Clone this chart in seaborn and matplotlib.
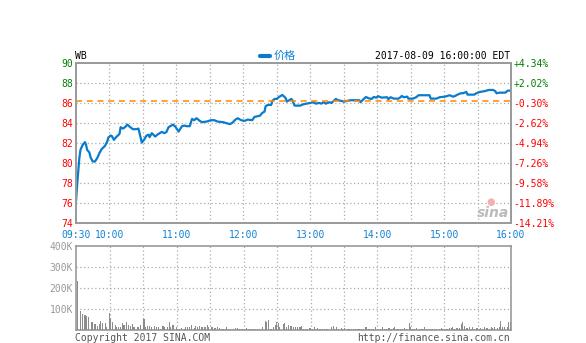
import numpy as np
import pandas as pd
import matplotlib
matplotlib.use("Agg")
import matplotlib.pyplot as plt
from matplotlib.lines import Line2D
import seaborn as sns

# ---------------- data ----------------
price_min = [0, 1, 2, 3, 4, 6, 8, 9, 10, 12, 13, 15, 17, 19, 21, 23, 26, 28, 29, 31,
             32, 34, 36, 38, 39, 40, 42, 44, 46, 48, 51, 54, 56, 57, 58, 59, 61, 63, 65, 66,
             68, 71, 73, 75, 77, 79, 81, 83, 85, 87, 89, 92, 95, 97, 99, 102, 104, 106, 108, 111,
             113, 117, 121, 124, 127, 132, 136, 138, 140, 143, 145, 148, 151, 154, 158, 160, 163, 165, 167, 169,
             170, 172, 175, 176, 178, 180, 182, 183, 185, 187, 188, 189, 191, 193, 194, 196, 198, 201, 204, 207,
             210, 213, 215, 218, 220, 222, 224, 227, 229, 231, 233, 235, 238, 240, 243, 246, 250, 254, 255, 258,
             260, 262, 265, 267, 269, 271, 274, 279, 280, 282, 285, 289, 291, 292, 294, 297, 298, 302, 305, 307,
             317, 318, 323, 326, 331, 335, 338, 340, 342, 345, 347, 350, 351, 357, 359, 362, 366, 368, 370, 374,
             376, 377, 380, 385, 387, 390]
price = [76.16, 77.80, 79.16, 80.50, 81.33, 81.83, 82.10, 81.83, 81.33, 81.06, 80.60, 80.16, 80.16, 80.50, 81.00, 81.40, 81.73, 82.16, 82.56, 82.76,
         82.73, 82.33, 82.60, 82.83, 82.93, 83.60, 83.46, 83.60, 83.86, 83.66, 83.40, 83.40, 83.46, 83.00, 82.50, 82.06, 82.33, 82.73, 82.86, 82.60,
         83.00, 82.66, 82.86, 83.00, 83.13, 83.00, 83.10, 83.60, 83.73, 83.86, 83.66, 83.16, 83.70, 83.76, 83.70, 83.70, 84.43, 84.30, 84.50, 84.23,
         84.10, 84.16, 84.30, 84.30, 84.16, 84.10, 83.96, 83.90, 84.03, 84.36, 84.50, 84.30, 84.23, 84.36, 84.30, 84.63, 84.70, 84.76, 85.03, 85.16,
         85.70, 85.83, 85.83, 86.23, 86.43, 86.43, 86.63, 86.70, 86.83, 86.63, 86.50, 86.16, 86.30, 86.43, 86.30, 85.76, 85.76, 85.76, 85.90, 85.96,
         86.03, 86.10, 85.96, 86.03, 85.96, 86.10, 85.96, 86.10, 86.03, 86.23, 86.43, 86.30, 86.23, 86.16, 86.23, 86.30, 86.30, 86.30, 86.10, 86.43,
         86.63, 86.50, 86.43, 86.63, 86.56, 86.70, 86.56, 86.60, 86.40, 86.60, 86.46, 86.46, 86.60, 86.73, 86.60, 86.66, 86.46, 86.46, 86.60, 86.80,
         86.80, 86.46, 86.46, 86.60, 86.66, 86.80, 86.66, 86.73, 86.86, 87.00, 87.00, 87.13, 86.86, 86.86, 87.00, 87.13, 87.20, 87.26, 87.33, 87.33,
         87.20, 87.00, 87.06, 87.06, 87.26, 87.26]

vol_min = [0, 3, 5, 7, 8, 10, 13, 14, 16, 18, 20, 21, 23, 25, 26, 29, 30, 32, 34, 35,
           37, 39, 41, 42, 44, 46, 48, 50, 51, 54, 55, 57, 60, 61, 63, 65, 67, 69, 71, 73,
           75, 77, 78, 81, 83, 84, 86, 89, 90, 92, 94, 96, 97, 99, 101, 103, 105, 106, 108, 110,
           112, 114, 115, 117, 118, 121, 123, 124, 126, 128, 130, 131, 133, 134, 136, 138, 140, 142, 144, 146,
           148, 150, 152, 154, 156, 158, 160, 162, 164, 166, 169, 170, 172, 174, 176, 178, 179, 181, 182, 185,
           186, 188, 190, 192, 194, 196, 198, 200, 201, 203, 205, 207, 209, 211, 213, 215, 216, 218, 220, 222,
           224, 225, 228, 230, 231, 233, 235, 237, 238, 240, 243, 244, 246, 248, 250, 252, 253, 255, 257, 259,
           260, 262, 264, 266, 268, 270, 272, 274, 276, 278, 280, 282, 284, 285, 287, 288, 290, 292, 294, 296,
           298, 299, 301, 303, 305, 307, 309, 310, 312, 314, 316, 318, 319, 321, 323, 325, 327, 328, 330, 332,
           334, 336, 337, 339, 341, 343, 345, 346, 348, 350, 352, 354, 355, 357, 359, 361, 362, 364, 366, 368,
           370, 372, 373, 375, 377, 379, 380, 382, 384, 386, 387, 389]
vol_k = [235, 93, 77, 71, 68, 61, 39, 39, 30, 20, 30, 42, 33, 36, 14, 83, 52, 39, 27, 14,
         17, 17, 33, 24, 39, 27, 20, 30, 17, 14, 17, 27, 52, 17, 20, 20, 14, 20, 14, 14,
         8, 20, 17, 14, 39, 17, 24, 14, 8, 8, 11, 8, 14, 17, 14, 24, 11, 20, 17, 20,
         14, 14, 17, 24, 17, 14, 11, 11, 14, 11, 8, 8, 8, 14, 8, 5, 5, 11, 11, 5,
         8, 8, 11, 5, 5, 5, 5, 8, 5, 14, 43, 39, 49, 5, 17, 24, 39, 33, 14, 30,
         33, 14, 24, 20, 14, 14, 17, 14, 20, 8, 8, 8, 11, 5, 14, 5, 11, 8, 5, 8,
         5, 5, 14, 20, 8, 14, 8, 11, 8, 11, 5, 8, 5, 8, 5, 8, 5, 5, 8, 14,
         17, 5, 5, 8, 17, 8, 8, 14, 8, 8, 11, 8, 11, 14, 5, 5, 8, 8, 11, 5,
         33, 17, 8, 8, 11, 8, 8, 5, 14, 5, 5, 5, 5, 8, 5, 8, 11, 8, 5, 8,
         11, 11, 14, 8, 11, 11, 30, 39, 20, 11, 14, 8, 14, 8, 11, 8, 11, 8, 14, 11,
         8, 14, 11, 14, 11, 17, 43, 14, 14, 17, 39, 39]

prev_close = 86.26
left_ticks = [74, 76, 78, 80, 82, 84, 86, 88, 90]
right_labels = ["-14.21%", "-11.89%", "-9.58%", "-7.26%", "-4.94%", "-2.62%", "-0.30%", "+2.02%", "+4.34%"]
x_tick_pos = [0, 30, 90, 150, 210, 270, 330, 390]
x_tick_labels = ["09:30", "10:00", "11:00", "12:00", "13:00", "14:00", "15:00", "16:00"]
vol_ticks = [100, 200, 300, 400]
vol_labels = ["100K", "200K", "300K", "400K"]

# ---------------- style ----------------
sns.set_style("white")
plt.rcParams["font.family"] = ["DejaVu Sans Mono", "Noto Sans CJK SC"]

BLUE = "#0a7bcc"
TXT_BLUE = "#1283d6"
GREEN = "#008000"
RED = "#ff0000"
GRAY = "#999999"
GRID = "#aaaaaa"
FS = 7

fig = plt.figure(figsize=(5.86, 3.43), dpi=100)
W, H = 586, 343

def axrect(x0, y0, x1, y1):
    return [x0 / W, 1 - y1 / H, (x1 - x0) / W, (y1 - y0) / H]

ax = fig.add_axes(axrect(76, 63.3, 511, 223))
axv = fig.add_axes(axrect(76, 245.7, 511, 330.3))

df = pd.DataFrame({"minute": price_min, "price": price})
sns.lineplot(data=df, x="minute", y="price", ax=ax, color=BLUE, linewidth=1.6)
ax.axhline(prev_close, color="#ff8800", linewidth=1.1, dashes=(4, 3))

ax.set_xlim(0, 390)
ax.set_ylim(74, 90)
ax.set_yticks(left_ticks)
ax.set_yticklabels([str(t) for t in left_ticks])
for lab, t in zip(ax.get_yticklabels(), left_ticks):
    lab.set_color(GREEN if t > prev_close else RED)
ax.set_xticks(x_tick_pos)
ax.set_xticklabels(x_tick_labels, color=TXT_BLUE)
ax.tick_params(axis="y", length=0, labelsize=FS, pad=2)
ax.tick_params(axis="x", length=0, labelsize=FS, pad=5)
ax.set_xlabel("")
ax.set_ylabel("")

# grid
for m in range(30, 390, 30):
    ax.axvline(m, color=GRID, linewidth=0.9, linestyle=(0, (1, 2)), zorder=0)
    axv.axvline(m, color=GRID, linewidth=0.9, linestyle=(0, (1, 2)), zorder=0)
for t in left_ticks[1:-1]:
    ax.axhline(t, color=GRID, linewidth=0.9, linestyle=(0, (1, 2)), zorder=0)

axr = ax.twinx()
axr.set_ylim(74, 90)
axr.set_yticks(left_ticks)
axr.set_yticklabels(right_labels)
for lab, s in zip(axr.get_yticklabels(), right_labels):
    lab.set_color(GREEN if s.startswith("+") else RED)
axr.tick_params(axis="y", length=0, labelsize=FS, pad=2)

for a in (ax, axr, axv):
    for sp in a.spines.values():
        sp.set_color(GRAY)
        sp.set_linewidth(1.2)
        sp.set_visible(True)

# volume
axv.bar(vol_min, vol_k, width=1.0, align="edge", color="#8c8c8c", linewidth=0, zorder=3)
axv.set_xlim(-0.6, 390)
axv.set_ylim(0, 400)
axv.set_yticks(vol_ticks)
axv.set_yticklabels(vol_labels, color=GRAY)
axv.set_xticks([])
axv.tick_params(axis="y", length=0, labelsize=FS, pad=2)
for t in vol_ticks[:-1]:
    axv.axhline(t, color=GRID, linewidth=0.9, linestyle=(0, (1, 2)), zorder=0)

# texts
fig.text(75 / W, 1 - 56 / H, "WB", fontsize=FS, color="black", va="center", ha="left")
fig.text(510 / W, 1 - 56 / H, "2017-08-09 16:00:00 EDT", fontsize=FS, color="black", va="center", ha="right")
fig.add_artist(Line2D([260 / W, 270 / W], [1 - 56 / H, 1 - 56 / H], color=BLUE, linewidth=3))
fig.text(274 / W, 1 - 56 / H, "价格", fontsize=FS + 1, color=TXT_BLUE, va="center", ha="left",
         family=["Noto Sans CJK SC", "DejaVu Sans"])
fig.text(75 / W, 1 - 338 / H, "Copyright 2017 SINA.COM", fontsize=FS, color="#555555", va="center", ha="left")
fig.text(510 / W, 1 - 338 / H, "http://finance.sina.com.cn", fontsize=FS, color="#555555", va="center", ha="right")
fig.text(493 / W, 1 - 213 / H, "sina", fontsize=10, color="#bbbbbb", style="italic", weight="bold",
         va="center", ha="center", family=["DejaVu Sans"])
fig.text(491 / W, 1 - 202 / H, "●", fontsize=7, color="#f4b0b0", va="center", ha="center", family=["DejaVu Sans"])

fig.savefig("out.png", dpi=100)
